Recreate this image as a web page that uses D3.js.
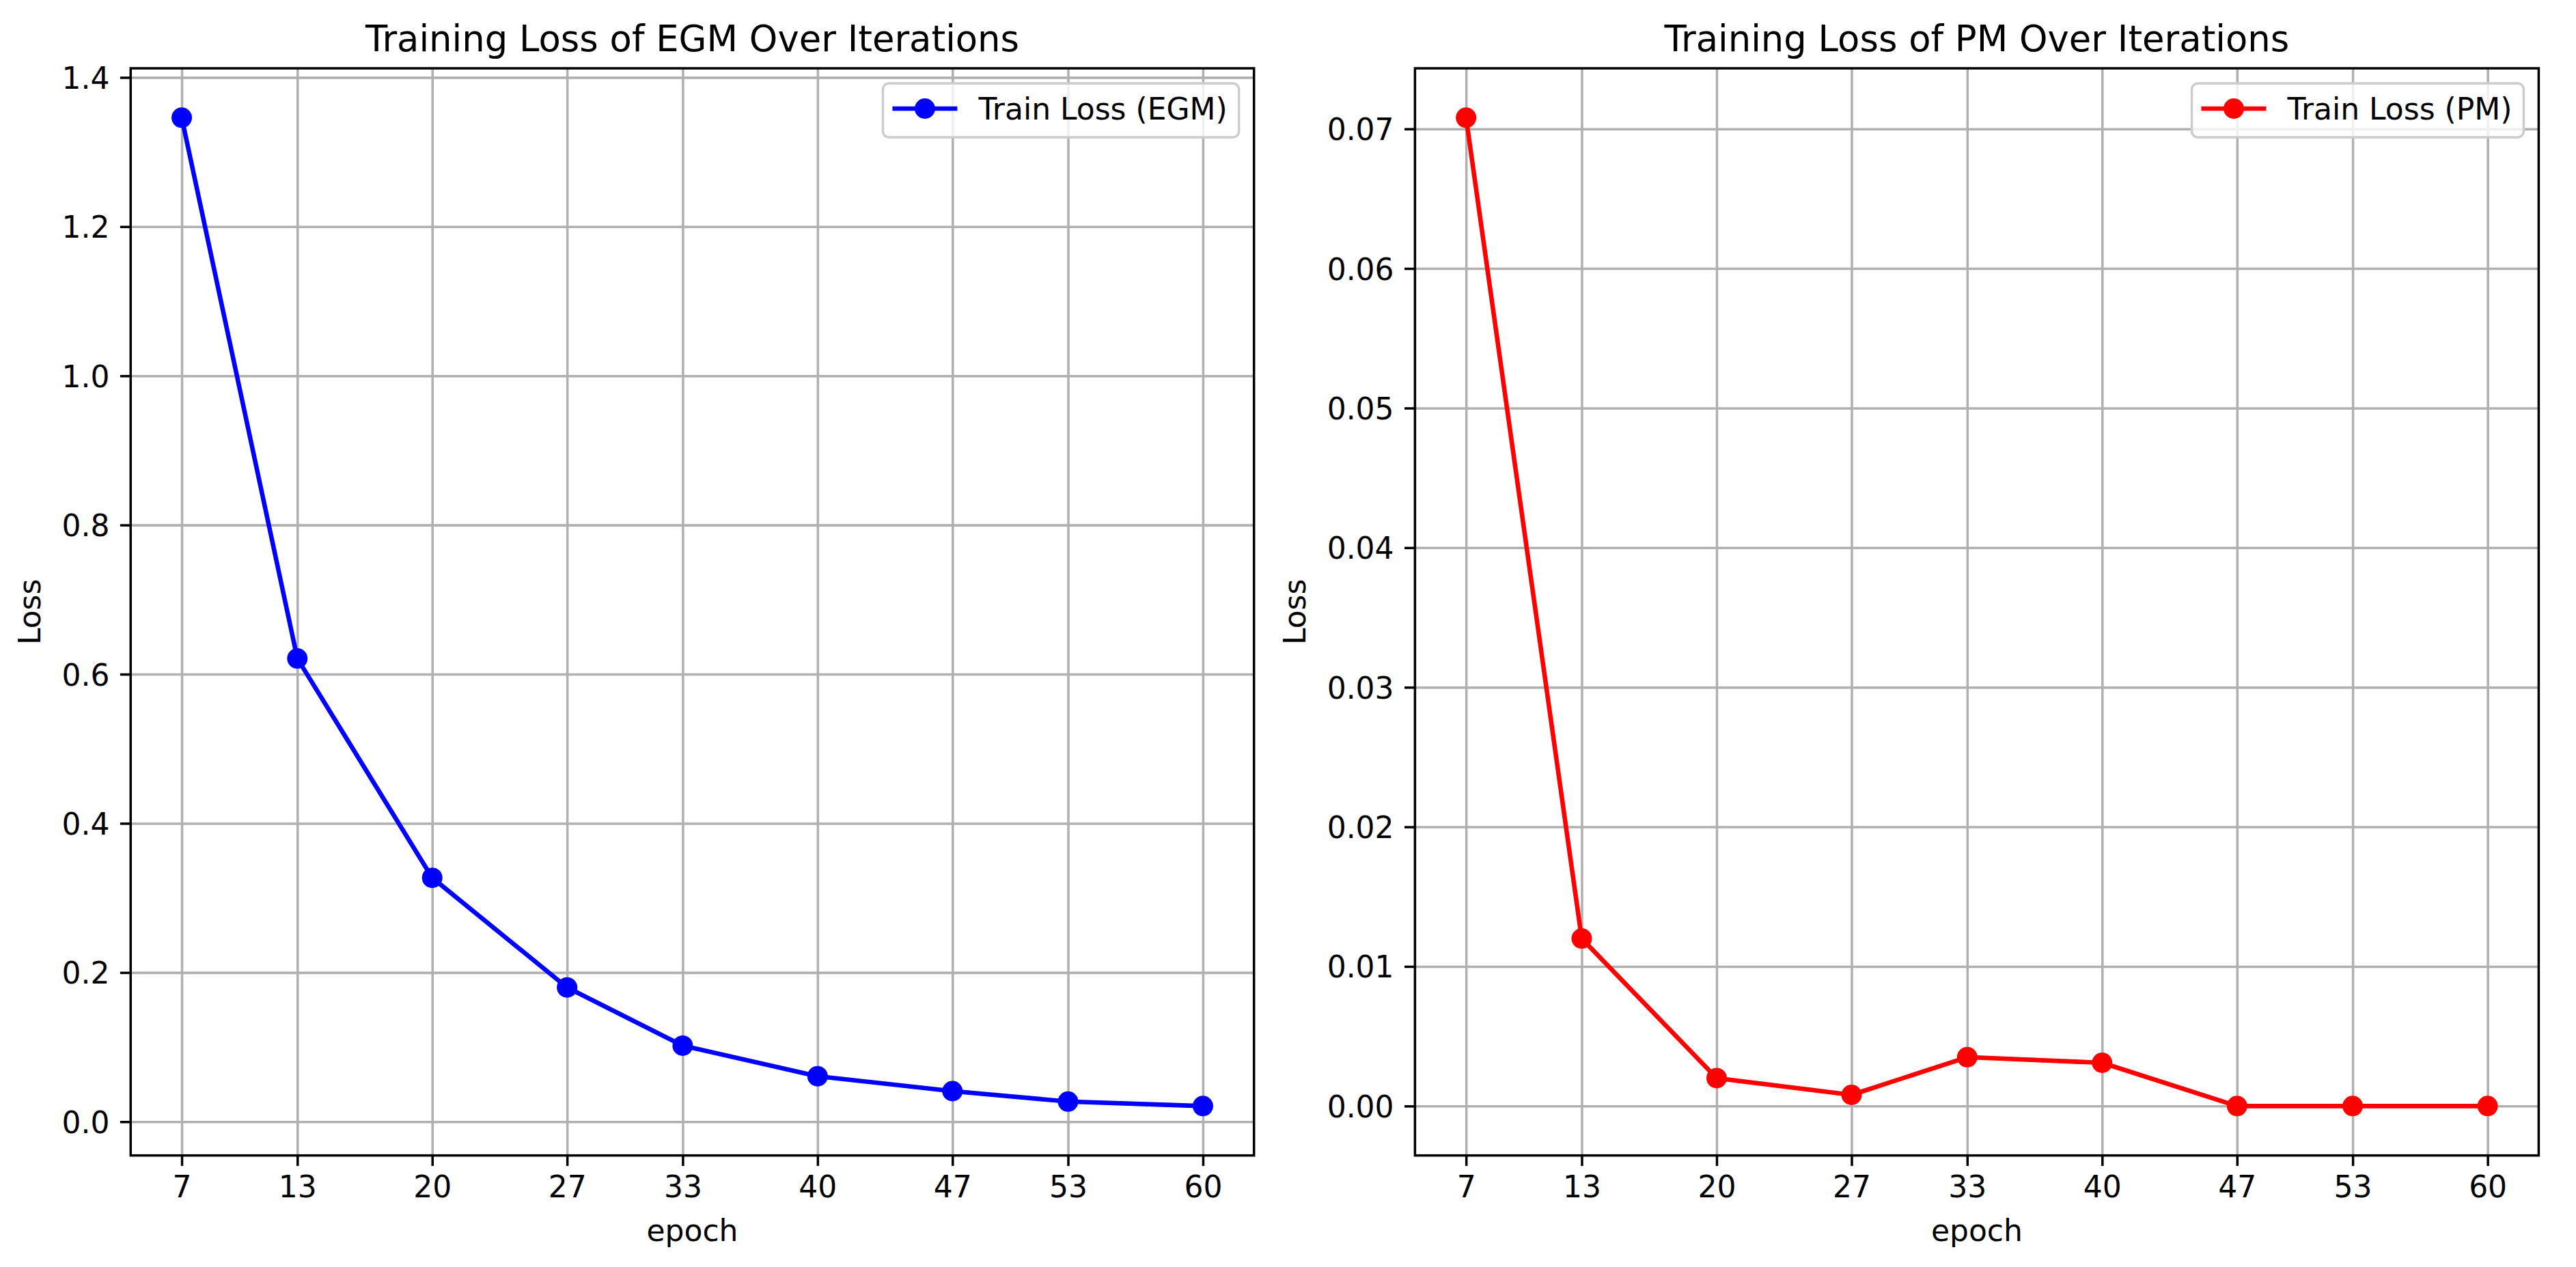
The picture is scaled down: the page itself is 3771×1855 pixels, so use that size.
<!DOCTYPE html>
<html>
<head>
  <meta charset="utf-8">
  <title>Training Loss</title>
  <script src="https://cdnjs.cloudflare.com/ajax/libs/d3/7.8.5/d3.min.js"></script>
  <style>
    body { margin: 0; background: #ffffff; }
    text { font-family: "DejaVu Sans", sans-serif; fill: #000000; }
  </style>
</head>
<body>
<script>
var W = 3771, H = 1855;

// data
var epochs = [7, 13, 20, 27, 33, 40, 47, 53, 60];
var egmLoss = [1.346, 0.621, 0.327, 0.180, 0.102, 0.061, 0.041, 0.027, 0.021];
var pmLoss = [0.0708, 0.0120, 0.0020, 0.0008, 0.0035, 0.0031, 0.0, 0.0, 0.0];
var egmTicks = [0.0, 0.2, 0.4, 0.6, 0.8, 1.0, 1.2, 1.4];
var pmTicks = [0.00, 0.01, 0.02, 0.03, 0.04, 0.05, 0.06, 0.07];

var pt = 4.4;           // pixels per point
var fontSize = 10 * pt; // tick / label font
var tickLen = 3.5 * pt;
var lineW = 0.8 * pt;

var svg = d3.select("body").append("svg")
  .attr("width", W)
  .attr("height", H);

svg.append("rect").attr("width", W).attr("height", H).attr("fill", "#ffffff");

// pad a domain the way matplotlib does (5% each side)
function padded(vals) {
  var lo = d3.min(vals), hi = d3.max(vals), r = hi - lo;
  return [lo - 0.05 * r, hi + 0.05 * r];
}

function drawPanel(opt) {
  var x0 = opt.left, x1 = opt.right, y0 = 100, y1 = 1691.7;
  var pw = x1 - x0, ph = y1 - y0;

  var x = d3.scaleLinear().domain(padded(epochs)).range([x0, x1]);
  var y = d3.scaleLinear().domain(padded(opt.values)).range([y1, y0]);

  var g = svg.append("g");

  // grid
  g.append("g")
    .attr("transform", "translate(0," + y1 + ")")
    .call(d3.axisBottom(x).tickValues(epochs).tickSize(-ph).tickFormat(""))
    .call(function(s) { s.select(".domain").remove(); })
    .selectAll("line").attr("stroke", "#b0b0b0").attr("stroke-width", lineW);
  g.append("g")
    .attr("transform", "translate(" + x0 + ",0)")
    .call(d3.axisLeft(y).tickValues(opt.ticks).tickSize(-pw).tickFormat(""))
    .call(function(s) { s.select(".domain").remove(); })
    .selectAll("line").attr("stroke", "#b0b0b0").attr("stroke-width", lineW);

  // line and markers
  var pts = epochs.map(function(e, i) { return [e, opt.values[i]]; });
  g.append("path")
    .datum(pts)
    .attr("fill", "none")
    .attr("stroke", opt.color)
    .attr("stroke-width", 1.5 * pt)
    .attr("stroke-linejoin", "round")
    .attr("d", d3.line().x(function(d) { return x(d[0]); }).y(function(d) { return y(d[1]); }));
  g.selectAll("circle.pt")
    .data(pts)
    .enter()
    .append("circle")
    .attr("class", "pt")
    .attr("cx", function(d) { return x(d[0]); })
    .attr("cy", function(d) { return y(d[1]); })
    .attr("r", 15)
    .attr("fill", opt.color);

  // x axis ticks
  var xa = g.append("g")
    .attr("transform", "translate(0," + y1 + ")")
    .call(d3.axisBottom(x).tickValues(epochs).tickSize(tickLen).tickPadding(0).tickFormat(d3.format("d")));
  xa.select(".domain").remove();
  xa.selectAll("line").attr("stroke", "#000").attr("stroke-width", lineW);
  xa.selectAll("text")
    .attr("y", 61.3).attr("dy", null)
    .style("font-size", fontSize + "px")
    .style("font-family", "DejaVu Sans");

  // y axis ticks
  var ya = g.append("g")
    .attr("transform", "translate(" + x0 + ",0)")
    .call(d3.axisLeft(y).tickValues(opt.ticks).tickSize(tickLen).tickPadding(0).tickFormat(d3.format(opt.fmt)));
  ya.select(".domain").remove();
  ya.selectAll("line").attr("stroke", "#000").attr("stroke-width", lineW);
  ya.selectAll("text")
    .attr("x", -2 * tickLen).attr("dy", null).attr("y", 16)
    .style("font-size", fontSize + "px")
    .style("font-family", "DejaVu Sans");

  // spines
  g.append("rect")
    .attr("x", x0).attr("y", y0).attr("width", pw).attr("height", ph)
    .attr("fill", "none").attr("stroke", "#000").attr("stroke-width", lineW);

  // title and axis labels
  g.append("text")
    .attr("x", (x0 + x1) / 2).attr("y", 75)
    .attr("text-anchor", "middle")
    .style("font-size", (12 * pt) + "px")
    .text(opt.title);
  g.append("text")
    .attr("x", (x0 + x1) / 2).attr("y", 1816.7)
    .attr("text-anchor", "middle")
    .style("font-size", fontSize + "px")
    .text("epoch");

  var minLeft = d3.min(ya.selectAll("text").nodes(), function(n) { return n.getBBox().x; });
  var lx = x0 + minLeft - 32;
  g.append("text")
    .attr("transform", "translate(" + lx + "," + ((y0 + y1) / 2) + ") rotate(-90)")
    .attr("text-anchor", "middle")
    .style("font-size", fontSize + "px")
    .text("Loss");

  // legend
  var lg = g.append("g");
  var frame = lg.append("rect");
  var label = lg.append("text")
    .style("font-size", fontSize + "px")
    .text(opt.label);
  var tw = label.node().getComputedTextLength();
  var boxW = 140 + tw + 17;
  var boxH = 79;
  var bx = x1 - 22 - boxW, by = y0 + 22;
  frame.attr("x", bx).attr("y", by).attr("width", boxW).attr("height", boxH)
    .attr("rx", 9).attr("ry", 9)
    .attr("fill", "#ffffff").attr("fill-opacity", 0.8)
    .attr("stroke", "#cccccc").attr("stroke-width", 3.5);
  label.attr("x", bx + 140).attr("y", by + 53);
  lg.append("line")
    .attr("x1", bx + 14).attr("x2", bx + 109)
    .attr("y1", by + 37).attr("y2", by + 37)
    .attr("stroke", opt.color).attr("stroke-width", 1.5 * pt);
  lg.append("circle")
    .attr("cx", bx + 61.5).attr("cy", by + 37).attr("r", 15)
    .attr("fill", opt.color);
}

drawPanel({
  left: 191.3, right: 1835.7,
  values: egmLoss, ticks: egmTicks, fmt: ".1f",
  color: "#0000ff",
  title: "Training Loss of EGM Over Iterations",
  label: "Train Loss (EGM)"
});

drawPanel({
  left: 2071.4, right: 3716.4,
  values: pmLoss, ticks: pmTicks, fmt: ".2f",
  color: "#ff0000",
  title: "Training Loss of PM Over Iterations",
  label: "Train Loss (PM)"
});
</script>
</body>
</html>
